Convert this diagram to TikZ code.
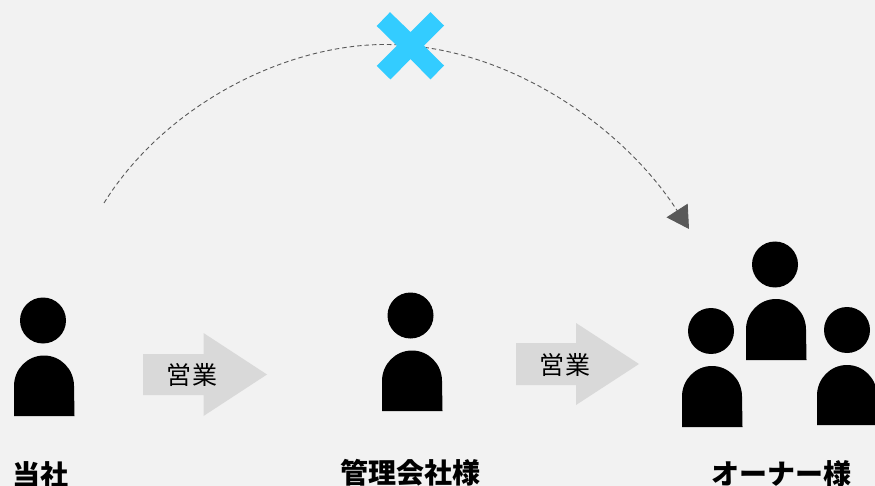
\documentclass[tikz,border=0pt]{standalone}
\usepackage{fontspec}
\setmainfont{Noto Sans CJK JP}
\usetikzlibrary{arrows.meta}
\definecolor{bgc}{HTML}{F2F2F2}
\definecolor{arrc}{HTML}{D9D9D9}
\definecolor{dashc}{HTML}{595959}
\definecolor{crossc}{HTML}{33CCFF}
\tikzset{
  who/.style={font=\fontsize{28}{28}\selectfont\bfseries,inner sep=0pt,anchor=center,text=black},
  sales/.style={font=\fontsize{25}{25}\selectfont,inner sep=0pt,text=black},
  bigarrow/.style={fill=arrc,draw=none},
  headdot/.style={circle,fill=black,draw=none,minimum size=46pt,inner sep=0pt},
}
% #1 name, #2 head x, #3 head y, #4 body left, #5 body top, #6 body bottom
\newcommand{\personfig}[6]{%
  \node[headdot] (#1) at (#2,#3) {};
  \fill[black] (#4,#6) -- (#4,#5+30.5) arc[start angle=180,end angle=0,x radius=30,y radius=-30.5] -- (#4+60.5,#6) -- cycle;
}
\begin{document}
\begin{tikzpicture}[x=1pt,y=-1pt]
\useasboundingbox (0,0) rectangle (875,486);
\fill[bgc] (0,0) rectangle (875,486);
% connector
\coordinate (from) at (104,203);
\coordinate (apex) at (385,44.5);
\coordinate (to) at (689,229);
\draw[dashc,line width=0.9pt,dash pattern=on 4.5pt off 3pt,-{Triangle[length=22pt,width=25pt,sep=0pt]}]
  (from) .. controls (165,105) and (285,44.5) .. (apex)
  .. controls (505,44.5) and (622,125) .. (to);
% cross
\fill[crossc] (390,12.2) -- (410.5,32) -- (430.5,12.2) -- (444,25.5) -- (424,45.7) -- (444,65.5)
  -- (430.5,79.5) -- (410.5,59) -- (390.5,79.5) -- (376.7,65.8) -- (396.8,45.7) -- (376.7,26) -- cycle;
% people
\personfig{p1}{43}{320.5}{14}{355.5}{416}
\personfig{p2}{410.5}{315.5}{382}{350.5}{411}
\personfig{p3}{775}{264.5}{746}{299}{360}
\personfig{p4}{711}{331}{682}{366}{427}
\personfig{p5}{847}{330}{817}{365}{425}
% sales arrows
\fill[bigarrow] (143,354) -- (203.5,354) -- (203.5,333) -- (267,374.5) -- (203.5,416) -- (203.5,395) -- (143,395) -- cycle;
\fill[bigarrow] (516,343) -- (576,343) -- (576,323) -- (639,364) -- (576,405) -- (576,385) -- (516,385) -- cycle;
\node[sales] (s1) at (192,375) {営\hspace{0.5pt}業};
\node[sales] (s2) at (565,364.5) {営\hspace{0.5pt}業};
% labels
\node[who] (l1) at (40.5,475) {当社};
\node[who] (l2) at (410,473) {管理会社様};
\node[who] (l3) at (781.5,474) {オーナー様};
\end{tikzpicture}
\end{document}
